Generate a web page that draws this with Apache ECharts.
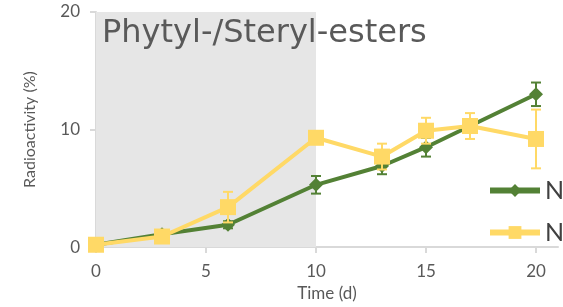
<!DOCTYPE html>
<html>
<head>
<meta charset="utf-8">
<script src="https://cdn.jsdelivr.net/npm/echarts@6/dist/echarts.min.js"></script>
<style>
html, body { margin: 0; padding: 0; background: #fff; }
#chart { width: 563px; height: 307px; }
</style>
</head>
<body>
<div id="chart"></div>
<script>
// 时间点 (d)
var days = [0, 3, 6, 10, 13, 15, 17, 20]
// 绿色系列 + 误差
var greenVals = [0.2, 1.1, 1.9, 5.3, 6.9, 8.5, 10.3, 13.0]
var greenErr = [0.1, 0.3, 0.3, 0.75, 0.7, 0.8, 0.3, 1.0]
// 黄色系列 + 误差
var yellowVals = [0.2, 0.9, 3.4, 9.3, 7.7, 9.9, 10.3, 9.2]
var yellowErr = [0.1, 0.2, 1.3, 0.3, 1.1, 1.1, 1.1, 2.5]
var xTicks = [0, 5, 10, 15, 20]
var shadeRange = [0, 10]

var green = '#538135'
var yellow = '#ffd966'
var txt = '#595959'

function pairs(vals) {
	return days.map(function (d, i) { return [d, vals[i]] })
}

function errData(vals, err) {
	return days.map(function (d, i) { return [d, vals[i] - err[i], vals[i] + err[i]] })
}

//误差线
function errSeries(vals, err, color, z) {
	return {
		type: 'custom',
		z: z,
		silent: true,
		data: errData(vals, err),
		renderItem: function (params, api) {
			var lo = api.coord([api.value(0), api.value(1)])
			var hi = api.coord([api.value(0), api.value(2)])
			var w = 5
			var st = { stroke: color, lineWidth: 2 }
			return {
				type: 'group',
				children: [
					{ type: 'line', shape: { x1: lo[0], y1: lo[1], x2: hi[0], y2: hi[1] }, style: st },
					{ type: 'line', shape: { x1: lo[0] - w, y1: lo[1], x2: lo[0] + w, y2: lo[1] }, style: st },
					{ type: 'line', shape: { x1: hi[0] - w, y1: hi[1], x2: hi[0] + w, y2: hi[1] }, style: st }
				]
			}
		}
	}
}

var chart = echarts.init(document.getElementById('chart'))

var option = {
	animation: false,
	title: {
		text: 'Phytyl-/Steryl-esters',
		left: 97,
		top: 13,
		textStyle: { color: txt, fontSize: 32, fontWeight: 'normal', fontFamily: 'DejaVu Sans' }
	},
	grid: { left: 96, right: 5, top: 12, bottom: 56 },
	legend: {
		orient: 'vertical',
		left: 482,
		top: 173,
		itemWidth: 50,
		itemHeight: 16,
		itemGap: 17,
		data: ['N-a', 'N-b'],
		formatter: function () { return 'N' },
		lineStyle: { width: 6 },
		textStyle: { color: '#404040', fontSize: 25, fontFamily: 'Lato' }
	},
	xAxis: {
		type: 'value',
		min: 0,
		max: 21,
		name: 'Time (d)',
		nameLocation: 'middle',
		nameGap: 37,
		nameTextStyle: { color: txt, fontSize: 17, fontFamily: 'Lato' },
		splitLine: { show: false },
		axisLine: { lineStyle: { color: '#d9d9d9', width: 2 } },
		axisTick: { show: true, length: 6, lineStyle: { color: '#d9d9d9', width: 2 }, customValues: xTicks },
		axisLabel: { color: txt, fontSize: 17, fontFamily: 'Lato', margin: 16, customValues: xTicks }
	},
	yAxis: {
		type: 'value',
		min: 0,
		max: 20,
		interval: 10,
		name: 'Radioactivity (%)',
		nameLocation: 'middle',
		nameGap: 58,
		nameTextStyle: { color: txt, fontSize: 16, fontFamily: 'Lato' },
		splitLine: { show: false },
		axisLine: { show: true, lineStyle: { color: '#d9d9d9', width: 2 } },
		axisTick: { show: true, length: 6, lineStyle: { color: '#d9d9d9', width: 2 } },
		axisLabel: { color: txt, fontSize: 17, fontFamily: 'Lato', margin: 16 }
	},
	series: [
		{
			name: 'N-a',
			type: 'line',
			z: 2,
			data: pairs(greenVals),
			symbol: 'diamond',
			symbolSize: 14,
			lineStyle: { color: green, width: 4 },
			itemStyle: { color: green },
			markArea: {
				silent: true,
				itemStyle: { color: '#e6e6e6' },
				data: [[{ xAxis: shadeRange[0] }, { xAxis: shadeRange[1] }]]
			}
		},
		errSeries(greenVals, greenErr, green, 3),
		{
			name: 'N-b',
			type: 'line',
			z: 4,
			data: pairs(yellowVals),
			symbol: 'rect',
			symbolSize: 16,
			lineStyle: { color: yellow, width: 4 },
			itemStyle: { color: yellow }
		},
		errSeries(yellowVals, yellowErr, yellow, 4)
	]
}

chart.setOption(option)
</script>
</body>
</html>
